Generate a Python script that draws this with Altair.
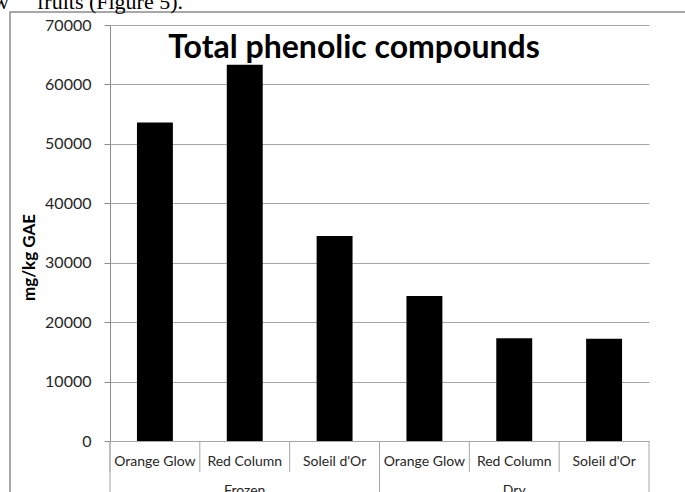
import altair as alt
import pandas as pd

# Total phenolic compounds (mg/kg GAE) by storage form and variety
storage = ["Frozen", "Frozen", "Frozen", "Dry", "Dry", "Dry"]
variety = ["Orange Glow", "Red Column", "Soleil d'Or",
           "Orange Glow", "Red Column", "Soleil d'Or"]
phenolics = [53600, 63300, 34500, 24400, 17300, 17200]
y_ticks = [0, 10000, 20000, 30000, 40000, 50000, 60000, 70000]
groups = ["Frozen", "Dry"]

W, H = 539, 416
GRID = "#a6a6a6"
AXIS = "#8c8c8c"
TEXT = "#262626"

df = pd.DataFrame({"storage": storage, "variety": variety, "value": phenolics})
df["key"] = df["storage"] + "|" + df["variety"]
order = list(df["key"])

xscale = alt.Scale(domain=order, paddingInner=0, paddingOuter=0)
one = pd.DataFrame({"a": [0]})

# outer chart frame
frame = alt.Chart(one).mark_rect(fillOpacity=0, stroke=AXIS, strokeWidth=1.5).encode(
    x=alt.value(-100), x2=alt.value(800), y=alt.value(-13), y2=alt.value(800)
)

# running text of the page above the chart
page_text = alt.Chart(one).mark_text(
    text="fruits (Figure 5).", font="Liberation Serif", fontSize=22,
    align="left", baseline="alphabetic", color="black"
).encode(x=alt.value(-73), y=alt.value(-16))
page_text2 = alt.Chart(one).mark_text(
    text="new", font="Liberation Serif", fontSize=22,
    align="right", baseline="alphabetic", color="black"
).encode(x=alt.value(-101), y=alt.value(-16))

bars = alt.Chart(df).mark_bar(color="black", width=alt.RelativeBandSize(0.4)).encode(
    x=alt.X("key:N", scale=xscale, title=None,
            axis=alt.Axis(labels=False, ticks=False, title=None, grid=False,
                          domainColor=GRID)),
    y=alt.Y("value:Q", scale=alt.Scale(domain=[0, 70000], nice=False),
            axis=alt.Axis(values=y_ticks, format="d", grid=True, gridColor=GRID,
                          domainColor=AXIS, tickColor=AXIS, tickSize=6,
                          labelFont="Lato", labelFontSize=16, labelColor=TEXT,
                          labelPadding=13, title="mg/kg GAE",
                          titleFont="Lato", titleFontSize=17, titleFontWeight="bold",
                          titleColor="black", titleX=-81, titleY=232, titleAngle=270,
                          titleAlign="center", titleBaseline="middle")),
)

variety_labels = alt.Chart(df).mark_text(
    font="Lato", fontSize=14, baseline="alphabetic", color=TEXT
).encode(x=alt.X("key:N", scale=xscale, axis=None), y=alt.value(441), text="variety:N")

# short dividers between the variety labels
div_left = alt.Chart(df).mark_rule(color=GRID).encode(
    x=alt.X("key:N", scale=xscale, axis=None, bandPosition=0), y=alt.value(416), y2=alt.value(447)
)

# long dividers between the two storage groups
sep_left = alt.Chart(pd.DataFrame({"key": [order[0], order[3]]})).mark_rule(color=GRID).encode(
    x=alt.X("key:N", scale=xscale, axis=None, bandPosition=0), y=alt.value(416), y2=alt.value(600)
)
sep_right = alt.Chart(pd.DataFrame({"key": [order[5]]})).mark_rule(color=GRID).encode(
    x=alt.X("key:N", scale=xscale, axis=None, bandPosition=1), y=alt.value(416), y2=alt.value(600)
)

group_labels = alt.Chart(pd.DataFrame({"key": [order[1], order[4]], "group": groups})).mark_text(
    font="Lato", fontSize=14, baseline="alphabetic", color=TEXT
).encode(x=alt.X("key:N", scale=xscale, axis=None), y=alt.value(470), text="group:N")

title = alt.Chart(one).mark_text(
    text="Total phenolic compounds", font="Lato", fontSize=32, fontWeight="bold",
    align="center", baseline="alphabetic", color="black"
).encode(x=alt.value(244), y=alt.value(33))

chart = alt.layer(
    frame, page_text, page_text2, bars, variety_labels, div_left, sep_left, sep_right,
    group_labels, title
).properties(
    width=W, height=H, autosize="none",
    padding={"left": 110, "top": 25, "right": 36, "bottom": 51},
    background="white",
).configure_view(strokeWidth=0)

chart.save("out.html", embed_options={"renderer": "svg", "actions": False})
